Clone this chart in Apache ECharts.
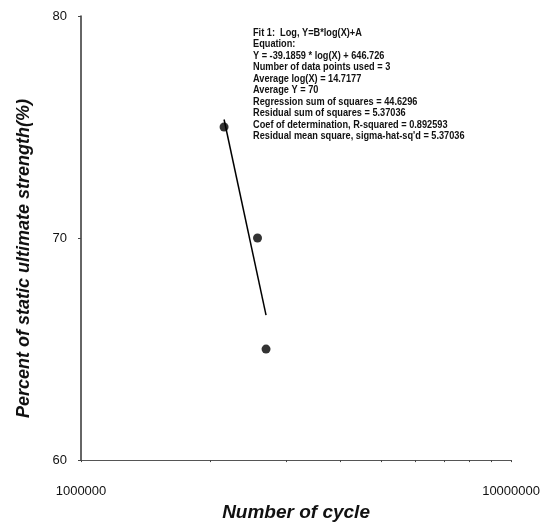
<!DOCTYPE html>
<html>
<head>
<meta charset="utf-8">
<style>
  html, body { margin: 0; padding: 0; background: #ffffff; }
  #chart { width: 543px; height: 527px; }
</style>
<script src="https://cdn.jsdelivr.net/npm/echarts@6/dist/echarts.min.js"></script>
</head>
<body>
<div id="chart"></div>
<script>
// Fatigue test results: cycles to failure vs. load level
const cycles = [2151000, 2573000, 2693000];
const strengthPct = [75, 70, 65];

// Log fit Y = B*ln(X) + A
const fitB = -39.1859;
const fitA = 646.726;

// Axis ticks
const yTicks = [60, 70, 80];
const xLabelValues = [1000000, 10000000];
const xTickValues = [1000000, 2000000, 3000000, 4000000, 5000000, 6000000, 7000000, 8000000, 9000000, 10000000];

// Fit report text
const fitReport = [
  'Fit 1:  Log, Y=B*log(X)+A',
  'Equation:',
  'Y = -39.1859 * log(X) + 646.726',
  'Number of data points used = 3',
  'Average log(X) = 14.7177',
  'Average Y = 70',
  'Regression sum of squares = 44.6296',
  'Residual sum of squares = 5.37036',
  'Coef of determination, R-squared = 0.892593',
  "Residual mean square, sigma-hat-sq'd = 5.37036"
];

const FONT = '"Liberation Sans", Arial, Helvetica, sans-serif';

const points = cycles.map((c, i) => [c, strengthPct[i]]);
const xMin = Math.min.apply(null, cycles);
const xMax = Math.max.apply(null, cycles);
const fitLine = [xMin, xMax].map(x => [x, fitB * Math.log(x) + fitA]);

const chart = echarts.init(document.getElementById('chart'), null, { renderer: 'canvas' });

chart.setOption({
  animation: false,
  backgroundColor: '#ffffff',
  grid: { left: 81, right: 29, top: 16, bottom: 61, containLabel: false },
  xAxis: {
    type: 'log',
    logBase: 10,
    min: 1000000,
    max: 10000000,
    name: 'Number of cycle',
    nameLocation: 'middle',
    nameGap: 38,
    nameTextStyle: { fontFamily: FONT, fontSize: 19, fontWeight: 'bold', fontStyle: 'italic', color: '#111' },
    axisLine: { show: true, lineStyle: { color: '#555', width: 1 } },
    axisTick: { show: true, length: 2, customValues: xTickValues, lineStyle: { color: '#444' } },
    axisLabel: {
      customValues: xLabelValues,
      margin: 25,
      fontFamily: FONT, fontSize: 13, color: '#111',
      formatter: v => String(Math.round(v))
    },
    splitLine: { show: false },
    minorTick: { show: false }
  },
  yAxis: {
    type: 'value',
    min: yTicks[0],
    max: yTicks[yTicks.length - 1],
    interval: 10,
    name: 'Percent of static ultimate strength(%)',
    nameLocation: 'middle',
    nameRotate: 90,
    nameGap: 48,
    nameTextStyle: { fontFamily: FONT, fontSize: 18, fontWeight: 'bold', fontStyle: 'italic', color: '#111', padding: [0, 41, 0, 0] },
    axisLine: { show: true, lineStyle: { color: '#333', width: 1.5 } },
    axisTick: { show: true, length: 3, lineStyle: { color: '#444' } },
    axisLabel: { margin: 14, fontFamily: FONT, fontSize: 13, color: '#111' },
    splitLine: { show: false }
  },
  series: [
    {
      type: 'line',
      data: fitLine,
      symbol: 'none',
      lineStyle: { color: '#000', width: 1.5 },
      z: 2
    },
    {
      type: 'scatter',
      data: points,
      symbol: 'circle',
      symbolSize: 9,
      itemStyle: { color: '#000' },
      z: 3
    }
  ],
  graphic: [
    {
      type: 'text',
      x: 253,
      y: 27,
      scaleX: 0.92,
      style: {
        text: fitReport.join('\n'),
        font: 'bold 10px ' + FONT,
        lineHeight: 11.5,
        fill: '#111'
      }
    }
  ]
});
</script>
</body>
</html>
